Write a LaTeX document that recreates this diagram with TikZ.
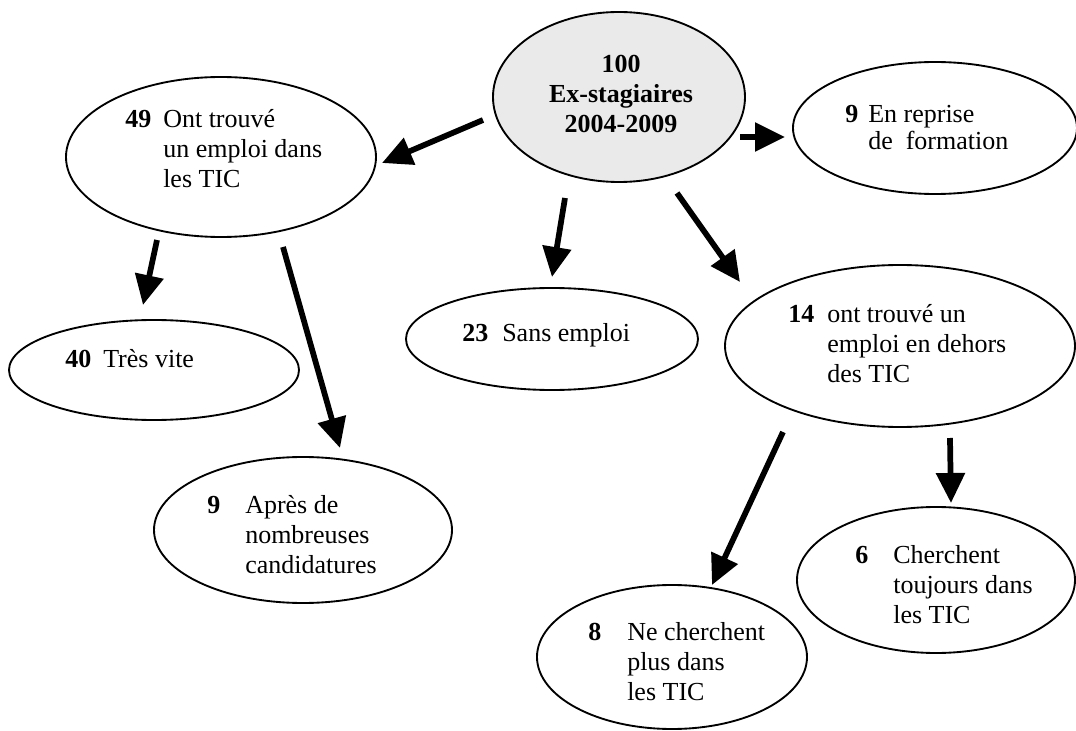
\documentclass[tikz,border=0pt]{standalone}
\usepackage{fontspec}
\setmainfont{Liberation Serif}
\usetikzlibrary{shapes.geometric,arrows.meta,calc}
\definecolor{cgray}{RGB}{234,234,234}
\begin{document}
\begin{tikzpicture}[x=0.75pt,y=-0.75pt,
  ell/.style={ellipse,draw=black,line width=1.4pt,inner sep=0pt},
  arr/.style={line width=4.3pt,-{Triangle[length=22.5pt,width=21pt]}},
  num/.style={anchor=base west,inner sep=0pt,font=\fontsize{19.5}{22.5}\selectfont\bfseries},
  txt/.style={anchor=base west,inner sep=0pt,font=\fontsize{19.5}{22.5}\selectfont}]
\useasboundingbox (0,0) rectangle (1076,731);
\clip (0,0) rectangle (1076,731);
% ellipses
\node[ell,fill=cgray,minimum width=189pt,minimum height=127.5pt] (c) at (619,97) {};
\node[ell,minimum width=232.5pt,minimum height=120pt] (n49) at (221,157) {};
\node[ell,minimum width=213pt,minimum height=99pt] (r9) at (935,128) {};
\node[ell,minimum width=219pt,minimum height=76.5pt] (n23) at (552,339) {};
\node[ell,minimum width=262.5pt,minimum height=121.5pt] (n14) at (900,346) {};
\node[ell,minimum width=217.5pt,minimum height=75pt] (n40) at (154,370) {};
\node[ell,minimum width=223.5pt,minimum height=109.5pt] (n9b) at (303,530) {};
\node[ell,minimum width=208.5pt,minimum height=109.5pt] (n6) at (936,580) {};
\node[ell,minimum width=202.5pt,minimum height=108pt] (n8) at (672,657) {};
% texts
\node[txt,anchor=base,font=\fontsize{19.5}{22.5}\selectfont\bfseries] (tc) at (621,73)
  {\begin{tabular}[t]{@{}c@{}}100\\Ex-stagiaires\\2004-2009\end{tabular}};
\node[num] (k49) at (125,128) {49};
\node[txt] (t49) at (163,128) {\begin{tabular}[t]{@{}l@{}}Ont trouvé\\un emploi dans\\les TIC\end{tabular}};
\node[num] (kr9) at (845,123) {9};
\node[txt,font=\fontsize{19.5}{19.5}\selectfont] (tr9) at (868,123) {\begin{tabular}[t]{@{}l@{}}En reprise\\de\ \ formation\end{tabular}};
\node[num] (k23) at (462,342) {23};
\node[txt] (t23) at (502,342) {Sans emploi};
\node[num] (k14) at (788,323) {14};
\node[txt] (t14) at (827,323) {\begin{tabular}[t]{@{}l@{}}ont trouvé un\\emploi en dehors\\des TIC\end{tabular}};
\node[num] (k40) at (65,368) {40};
\node[txt] (t40) at (103,368) {Très vite};
\node[num] (k9b) at (207,513) {9};
\node[txt] (t9b) at (245,513) {\begin{tabular}[t]{@{}l@{}}Après de\\nombreuses\\candidatures\end{tabular}};
\node[num] (k6) at (855,563) {6};
\node[txt] (t6) at (893,563) {\begin{tabular}[t]{@{}l@{}}Cherchent\\toujours dans\\les TIC\end{tabular}};
\node[num] (k8) at (588,640) {8};
\node[txt] (t8) at (627,640) {\begin{tabular}[t]{@{}l@{}}Ne cherchent\\plus dans\\les TIC\end{tabular}};
% arrows
\draw[arr] ($(c.center)+(-136,23)$) -- ($(n49.center)+(161,6)$);
\draw[arr] ($(c.center)+(121,40)$) -- ($(r9.center)+(-150,9)$);
\draw[arr] ($(c.center)+(-54,101)$) -- ($(n23.center)+(0,-62)$);
\draw[arr] ($(c.center)+(58,96)$) -- ($(n14.center)+(-160,-64)$);
\draw[arr] ($(n49.center)+(-64,83)$) -- ($(n40.center)+(-11,-65)$);
\draw[arr] ($(n49.center)+(62,90)$) -- ($(n9b.center)+(37,-82)$);
\draw[arr] ($(n14.center)+(-117,86)$) -- ($(n8.center)+(40,-72)$);
\draw[arr] ($(n14.center)+(50,92)$) -- ($(n6.center)+(15,-77)$);
\end{tikzpicture}
\end{document}
